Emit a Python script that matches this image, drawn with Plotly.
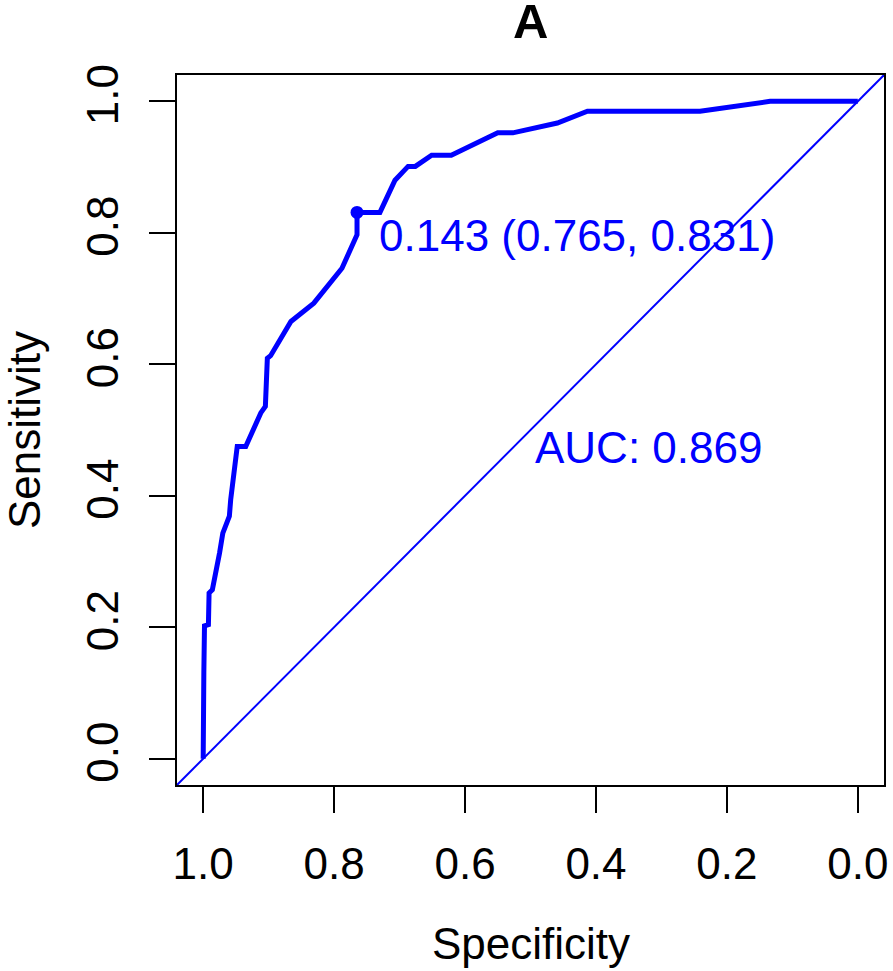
import plotly.graph_objects as go

# ROC curve (specificity reversed on x)
specificity = [1.000, 1.000, 0.999, 0.998, 0.992, 0.991, 0.986, 0.975, 0.970, 0.960,
               0.958, 0.948, 0.935, 0.912, 0.905, 0.902, 0.897, 0.866, 0.831, 0.788,
               0.775, 0.765, 0.765, 0.730, 0.707, 0.687, 0.676, 0.651, 0.621, 0.550,
               0.527, 0.459, 0.413, 0.241, 0.134, 0.000]
sensitivity = [0.000, 0.085, 0.131, 0.202, 0.204, 0.252, 0.257, 0.313, 0.343, 0.369,
               0.394, 0.475, 0.475, 0.526, 0.536, 0.609, 0.613, 0.665, 0.693, 0.746,
               0.774, 0.797, 0.831, 0.831, 0.880, 0.901, 0.901, 0.918, 0.918, 0.952,
               0.952, 0.967, 0.985, 0.985, 1.000, 1.000]

best_threshold = 0.143
best_spec = 0.765
best_sens = 0.831
auc = 0.869

tick_vals = [1.0, 0.8, 0.6, 0.4, 0.2, 0.0]
tick_text = ["1.0", "0.8", "0.6", "0.4", "0.2", "0.0"]

x_range = [1.04, -0.04]
y_range = [-0.04, 1.04]

FONT = "Liberation Sans, Arial, sans-serif"
BLUE = "#0000FF"


def main():
    fig = go.Figure()

    # chance line across the whole box
    fig.add_trace(go.Scatter(
        x=x_range, y=[1 - v for v in x_range],
        mode="lines", line=dict(color=BLUE, width=2),
        hoverinfo="skip", showlegend=False,
    ))

    # ROC curve
    fig.add_trace(go.Scatter(
        x=specificity, y=sensitivity,
        mode="lines", line=dict(color=BLUE, width=5),
        showlegend=False,
    ))

    # best threshold point
    fig.add_trace(go.Scatter(
        x=[best_spec], y=[best_sens],
        mode="markers", marker=dict(color=BLUE, size=13),
        showlegend=False,
    ))

    axis_common = dict(
        showgrid=False, zeroline=False,
        showline=True, linecolor="black", linewidth=2, mirror=True,
        ticks="outside", ticklen=26, tickwidth=2, tickcolor="black",
        tickvals=tick_vals, ticktext=tick_text,
        tickfont=dict(family=FONT, size=44, color="black"),
    )
    fig.update_xaxes(range=x_range, ticklabelstandoff=13, **axis_common)
    fig.update_yaxes(range=y_range, tickangle=-90, ticklabelstandoff=13, **axis_common)

    fig.update_layout(
        width=893, height=971,
        margin=dict(l=177, r=5, t=75, b=186),
        plot_bgcolor="white", paper_bgcolor="white",
        annotations=[
            dict(text="<b>A</b>", x=0.5, y=1, xref="paper", yref="paper",
                 yanchor="middle", yshift=54, showarrow=False,
                 font=dict(family=FONT, size=49, color="black")),
            dict(text="Specificity", x=0.5, y=0, xref="paper", yref="paper",
                 yanchor="middle", yshift=-158, showarrow=False,
                 font=dict(family=FONT, size=44, color="black")),
            dict(text="Sensitivity", x=0, y=0.5, xref="paper", yref="paper",
                 xanchor="center", xshift=-153, textangle=-90, showarrow=False,
                 font=dict(family=FONT, size=44, color="black")),
            dict(text=f"{best_threshold:.3f} ({best_spec:.3f}, {best_sens:.3f})",
                 x=best_spec, y=best_sens, xanchor="left", yanchor="middle",
                 xshift=20, yshift=-23, showarrow=False,
                 font=dict(family=FONT, size=44, color=BLUE)),
            dict(text=f"AUC: {auc:.3f}", x=0.5, y=0.5,
                 xanchor="left", yanchor="middle", xshift=2, yshift=-17,
                 showarrow=False, font=dict(family=FONT, size=44, color=BLUE)),
        ],
    )

    # drop the page's default body margin so the figure fills the window
    fig.write_html(
        "out.html",
        config={"displayModeBar": False},
        post_script="document.body.style.margin='0';document.body.style.overflow='hidden';",
    )


if __name__ == "__main__":
    main()
